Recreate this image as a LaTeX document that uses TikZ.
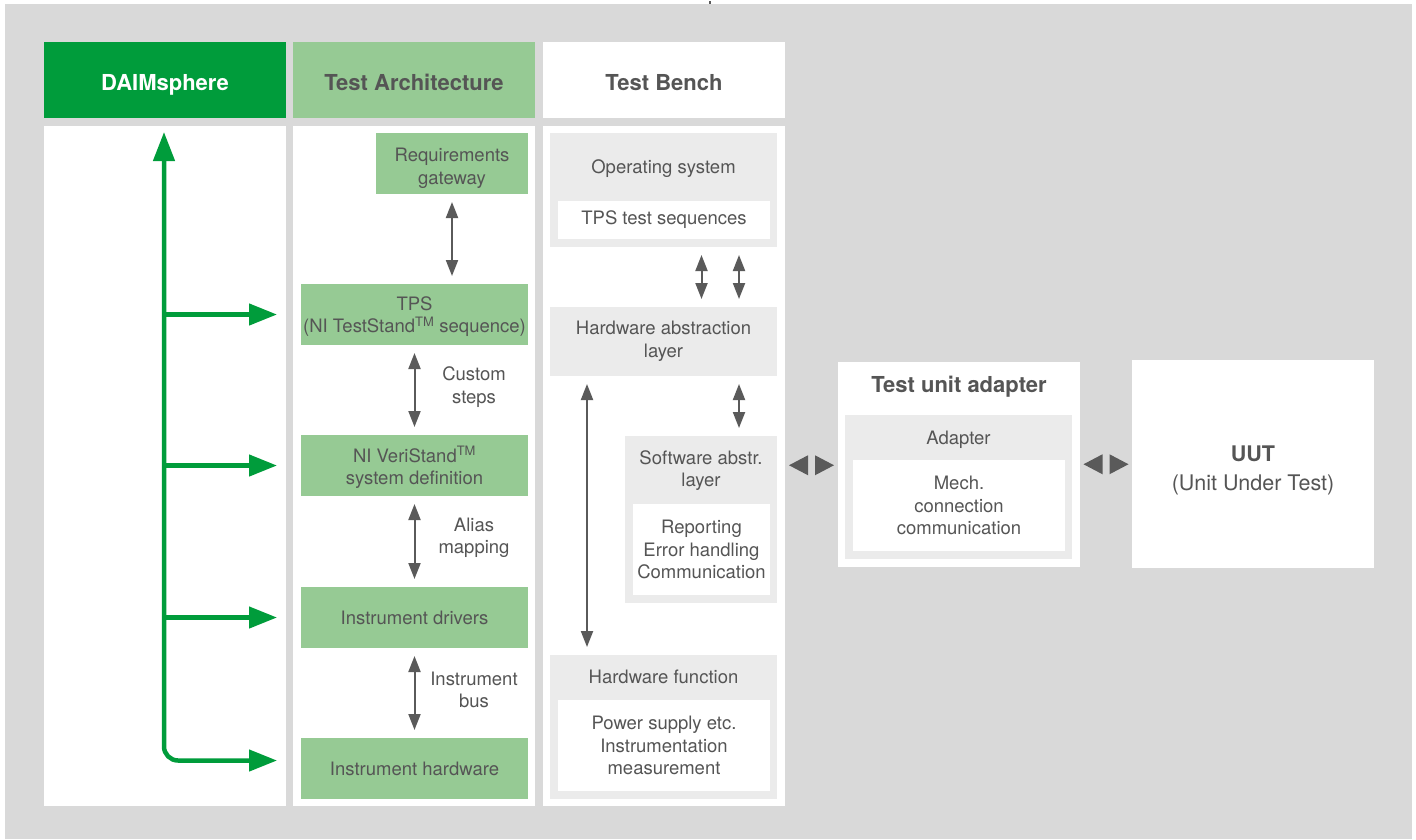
\documentclass[tikz,border=0pt]{standalone}
\usepackage{fontspec}
\setmainfont{TeX Gyre Heros}
\usetikzlibrary{arrows.meta}
\usetikzlibrary{calc}

\definecolor{bggray}{RGB}{217,217,217}
\definecolor{dgreen}{RGB}{0,156,59}
\definecolor{lgreen}{RGB}{150,202,148}
\definecolor{lgray}{RGB}{235,235,235}
\definecolor{tgray}{RGB}{85,85,85}
\definecolor{agray}{RGB}{90,90,90}

\begin{document}
\begin{tikzpicture}[x = 1pt, y = -1pt]
\tikzstyle{BoxStyle}=[shape = rectangle,
                      inner sep = 0pt,
                      outer sep = 0pt,
                      font = \fontsize{18.5}{22.5}\selectfont,
                      text = tgray,
                      align = center]
\tikzstyle{HeadStyle}=[BoxStyle, font = \fontsize{22}{26}\selectfont\bfseries,
                       text height = 21.8pt, text depth = 0pt,
                       minimum width = 242pt, minimum height = 76pt]
\tikzstyle{ColStyle}=[BoxStyle, fill = white, minimum width = 242pt, minimum height = 680pt]
\tikzstyle{ArchStyle}=[BoxStyle, fill = lgreen, minimum height = 61pt]
\tikzstyle{BenchStyle}=[BoxStyle, fill = lgray]
\tikzstyle{PlainStyle}=[BoxStyle, fill = white]
\tikzstyle{LinkStyle}=[draw = agray, line width = 2pt,
                       {Triangle[length=16pt,width=12pt]}-{Triangle[length=16pt,width=12pt]},
                       shorten <= 8pt, shorten >= 8pt]
\tikzstyle{FeedStyle}=[draw = dgreen, line width = 4.5pt, -{Triangle[length=28pt,width=21pt]}]
\tikzstyle{TipStyle}=[fill = agray]
\fill[white] (0,0) rectangle (1416,838);
\fill[bggray] (5,3) rectangle (1412,838);
\draw[agray, line width = 2pt] (710,0) -- (710,3);
\useasboundingbox (0,0) rectangle (1416,838);
\node[HeadStyle, fill = dgreen, text = white] (h1) at (165,79) {DAIMsphere};
\node[HeadStyle, fill = lgreen] (h2) at (414,79) {Test Architecture};
\node[HeadStyle, fill = white] (h3) at (664,79) {Test Bench};
\node[ColStyle] (c1) at (165,465) {};
\node[ColStyle] (c2) at (414,465) {};
\node[ColStyle] (c3) at (664,465) {};
\node[ArchStyle, minimum width = 152pt] (a1) at (452,162.5) {};
\node[BoxStyle] (at1) at (452,167.5) {Requirements\\gateway};
\node[ArchStyle, minimum width = 227pt] (a2) at (414.5,313.5) {};
\node[BoxStyle] (at2) at (414.5,315.5) {TPS\\(NI TestStand\textsuperscript{TM} sequence)};
\node[ArchStyle, minimum width = 227pt] (a3) at (414.5,464.5) {};
\node[BoxStyle] (at3) at (414.5,466.5) {NI VeriStand\textsuperscript{TM}\\system definition};
\node[ArchStyle, minimum width = 227pt] (a4) at (414.5,616.5) {Instrument drivers};
\node[ArchStyle, minimum width = 227pt] (a5) at (414.5,767.5) {Instrument hardware};
\node[BoxStyle] (l1) at (474,386) {Custom\\steps};
\node[BoxStyle] (l2) at (474,537) {Alias\\mapping};
\node[BoxStyle] (l3) at (474,689) {Instrument\\bus};
\node[BenchStyle, minimum width = 227pt, minimum height = 114pt] (b1) at (663.5,189) {};
\node[BoxStyle] (bt1) at (663.5,167.5) {Operating system};
\node[PlainStyle, minimum width = 212pt, minimum height = 38pt] (b2) at (664,219) {TPS test sequences};
\node[BenchStyle, minimum width = 227pt, minimum height = 69pt] (b3) at (663.5,340.5) {Hardware abstraction\\layer};
\node[BenchStyle, minimum width = 152pt, minimum height = 167pt] (b4) at (701,518.5) {};
\node[BoxStyle] (bt4) at (701,469.5) {Software abstr.\\layer};
\node[PlainStyle, minimum width = 137pt, minimum height = 91pt] (b5) at (701.5,548.5) {Reporting\\Error handling\\Communication};
\node[BenchStyle, minimum width = 227pt, minimum height = 144pt] (b6) at (663.5,726) {};
\node[BoxStyle] (bt6) at (663.5,676) {Hardware function};
\node[PlainStyle, minimum width = 212pt, minimum height = 91pt] (b7) at (664,744.5) {Power supply etc.\\Instrumentation\\measurement};
\node[PlainStyle, minimum width = 242pt, minimum height = 205pt] (t1) at (959,463.5) {};
\node[BoxStyle, font = \fontsize{22}{26}\selectfont\bfseries] (tt1) at (959,386) {Test unit adapter};
\node[BenchStyle, minimum width = 227pt, minimum height = 144pt] (t2) at (958.5,486) {};
\node[BoxStyle] (tt2) at (958.5,439) {Adapter};
\node[PlainStyle, minimum width = 212pt, minimum height = 91pt] (t3) at (959,504.5) {Mech.\\connection\\communication};
\node[PlainStyle, minimum width = 242pt, minimum height = 208pt] (u1) at (1253,463) {};
\node[BoxStyle, font = \fontsize{21.5}{26}\selectfont] (ut1) at (1253,469) {\textbf{UUT}\\[3pt](Unit Under Test)};
\draw[LinkStyle] (a1.south) -- (a1.south |- a2.north);
\draw[LinkStyle] (a2.south) -- (a3.north);
\draw[LinkStyle] (a3.south) -- (a4.north);
\draw[LinkStyle] (a4.south) -- (a5.north);
\draw[LinkStyle] ([xshift=38pt]b1.south) -- ([xshift=38pt]b3.north);
\draw[LinkStyle] ([xshift=75.5pt]b1.south) -- ([xshift=75.5pt]b3.north);
\draw[LinkStyle] ([xshift=75.5pt]b3.south) -- ([xshift=75.5pt]b3.south |- b4.north);
\draw[LinkStyle] ([xshift=-76.5pt]b3.south) -- ([xshift=-76.5pt]b6.north);
\coordinate (m1) at ($(c3.east)!0.5!(t1.west)$);
\coordinate (m2) at ($(t1.east)!0.5!(u1.west)$);
\fill[TipStyle] ($(m1)+(-3.5,-10)$) -- ++(0,20) -- ++(-19,-10) -- cycle;
\fill[TipStyle] ($(m1)+(3.5,-10)$) -- ++(0,20) -- ++(19,-10) -- cycle;
\fill[TipStyle] ($(m2)+(-3.5,-10)$) -- ++(0,20) -- ++(-19,-10) -- cycle;
\fill[TipStyle] ($(m2)+(3.5,-10)$) -- ++(0,20) -- ++(19,-10) -- cycle;
\coordinate (g1) at ($(c1.north)+(-1,6)$);
\draw[FeedStyle] (g1 |- a2.west) -- ([xshift=-24pt]a2.west);
\draw[FeedStyle] (g1 |- a3.west) -- ([xshift=-24pt]a3.west);
\draw[FeedStyle] (g1 |- a4.west) -- ([xshift=-24pt]a4.west);
\draw[FeedStyle, {Triangle[length=29pt,width=21pt]}-{Triangle[length=28pt,width=21pt]}, rounded corners = 14pt]
  (g1) -- ($(g1 |- a5.west)+(0,-8)$) -- ($(a5.west)+(-24,-8)$);
\end{tikzpicture}
\end{document}
